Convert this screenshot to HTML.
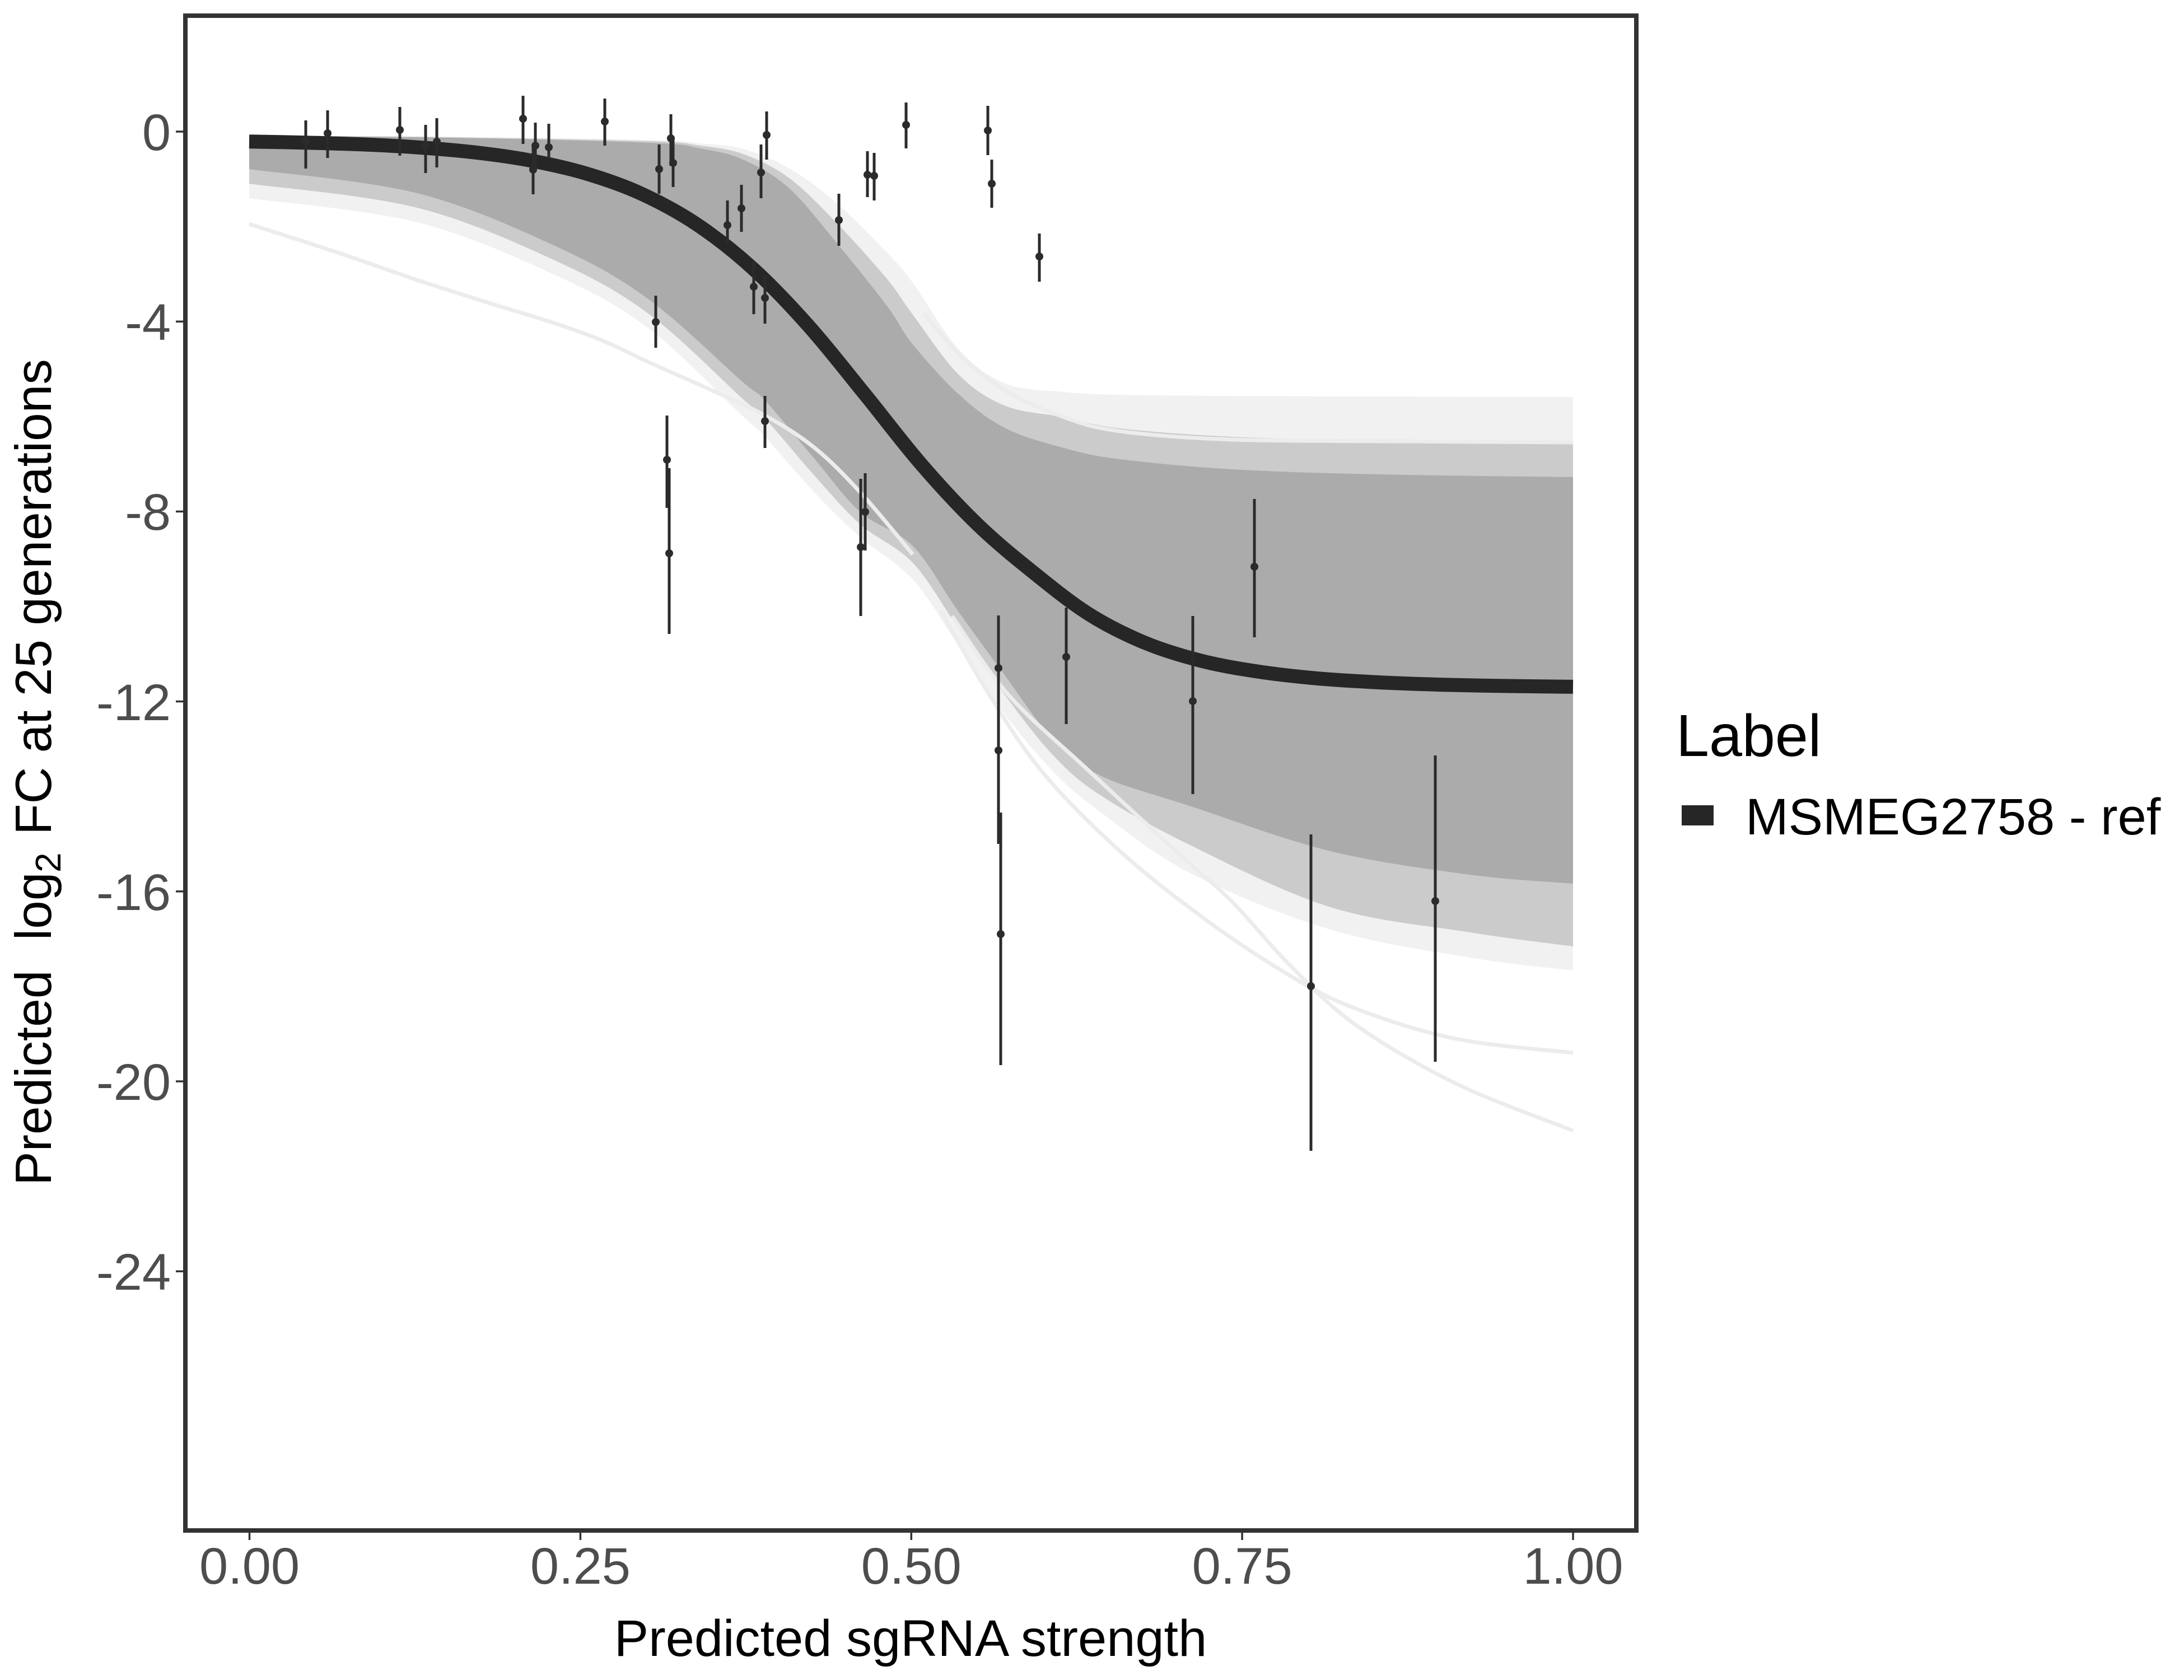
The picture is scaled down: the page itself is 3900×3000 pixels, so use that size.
<!DOCTYPE html>
<html><head><meta charset="utf-8"><style>
html,body{margin:0;padding:0;background:#fff;}
svg{display:block;}
text{font-family:"Liberation Sans",Arial,sans-serif;}
</style></head><body>
<svg width="3900" height="3000" viewBox="0 0 3900 3000" xmlns="http://www.w3.org/2000/svg">
<rect width="3900" height="3000" fill="#fff"/>

<path id="bandF" fill="#f1f1f1" d="M445,242 L800,244 L1159,250 L1250,256 L1327,266 L1408,300 L1491,360 L1583,450 L1630,505 L1713,625 L1796,685 L1900,700 L2000,705 L2200,707 L2459,708 L2809,709 L2809,1733 L2625,1710 L2376,1660 L2127,1560 L1965,1450 L1880,1377 L1790,1270 L1710,1150 L1630,1035 L1537,960 L1455,880 L1366,780 L1325,742 L1159,587 L993,492 L745,397 L445,354 Z"/>
<path id="bandM" fill="#cbcbcb" d="M445,242 L800,245 L1159,252 L1250,260 L1327,275 L1408,317 L1491,395 L1583,497 L1630,562 L1713,670 L1796,725 L1900,745 L2000,765 L2200,780 L2459,787 L2809,792 L2809,1690 L2625,1665 L2376,1620 L2127,1510 L1965,1420 L1880,1348 L1790,1235 L1710,1120 L1630,1005 L1537,937 L1455,850 L1366,747 L1325,711 L1159,561 L993,466 L745,371 L445,328 Z"/>
<path id="bandD" fill="#ababab" d="M445,243 L800,246 L1159,255 L1250,265 L1327,285 L1408,335 L1491,430 L1583,545 L1630,615 L1713,705 L1796,765 L1900,800 L2000,820 L2200,838 L2459,847 L2809,852 L2809,1578 L2625,1562 L2376,1520 L2127,1440 L1965,1385 L1880,1320 L1790,1200 L1710,1090 L1630,975 L1537,915 L1455,820 L1366,715 L1325,681 L1159,535 L993,440 L745,345 L445,302 Z"/>

<g fill="none" stroke="#ececec" stroke-width="7" stroke-linejoin="round">
<path class="sm" d="M445,400 L600,450 L745,500 L870,540 L993,578 L1080,610 L1159,647 L1260,692 L1366,742 L1455,800 L1537,880 L1630,990"/>
<path class="sm" d="M1700,1100 L1800,1240 L1945,1377 L2100,1520 L2200,1610 L2300,1720 L2418,1828 L2600,1935 L2809,2019"/>
<path class="sm" d="M1680,1090 L1760,1230 L1860,1377 L2000,1520 L2150,1640 L2300,1740 L2418,1800 L2600,1855 L2809,1880"/>
<path class="sm" d="M1650,560 L1720,640 L1800,700 L1900,745 L2000,770 L2200,785 L2500,788 L2809,790"/>
</g>

<path class="sm" fill="none" stroke="#262626" stroke-width="25" stroke-linejoin="round" d="M445,252.8 L545,254.7 L645,257.8 L745,263.1 L845,271.8 L945,286.2 L1045,309.4 L1145,345.8 L1245,401.1 L1345,480 L1445,583.2 L1545,704.8 L1645,829 L1745,936 L1845,1022 L1945,1097 L2045,1148 L2145,1180 L2245,1199 L2345,1210.8 L2445,1217.6 L2545,1221.8 L2645,1224.3 L2809,1226.4"/>

<g stroke="#2b2b2b" stroke-width="5" fill="none">
<line x1="546" y1="215" x2="546" y2="301"/>
<line x1="585" y1="197" x2="585" y2="282"/>
<line x1="714" y1="191" x2="714" y2="278"/>
<line x1="760" y1="223" x2="760" y2="309"/>
<line x1="780" y1="211" x2="780" y2="299"/>
<line x1="934" y1="171" x2="934" y2="257"/>
<line x1="956" y1="219" x2="956" y2="300"/>
<line x1="952" y1="260" x2="952" y2="347"/>
<line x1="980" y1="221" x2="980" y2="283"/>
<line x1="1080" y1="176" x2="1080" y2="260"/>
<line x1="1177" y1="258" x2="1177" y2="346"/>
<line x1="1198" y1="204" x2="1198" y2="296"/>
<line x1="1202" y1="249" x2="1202" y2="334"/>
<line x1="1171" y1="528" x2="1171" y2="621"/>
<line x1="1191" y1="742" x2="1191" y2="907"/>
<line x1="1195" y1="836" x2="1195" y2="1132"/>
<line x1="1299" y1="358" x2="1299" y2="434"/>
<line x1="1324" y1="330" x2="1324" y2="414"/>
<line x1="1359" y1="258" x2="1359" y2="354"/>
<line x1="1369" y1="199" x2="1369" y2="285"/>
<line x1="1346" y1="466" x2="1346" y2="561"/>
<line x1="1366" y1="492" x2="1366" y2="578"/>
<line x1="1366" y1="707" x2="1366" y2="800"/>
<line x1="1498" y1="346" x2="1498" y2="439"/>
<line x1="1549" y1="270" x2="1549" y2="352"/>
<line x1="1561" y1="273" x2="1561" y2="358"/>
<line x1="1618" y1="183" x2="1618" y2="265"/>
<line x1="1537" y1="855" x2="1537" y2="1100"/>
<line x1="1545" y1="845" x2="1545" y2="983"/>
<line x1="1764" y1="189" x2="1764" y2="277"/>
<line x1="1771" y1="285" x2="1771" y2="371"/>
<line x1="1856" y1="417" x2="1856" y2="503"/>
<line x1="1783" y1="1099" x2="1783" y2="1507"/>
<line x1="1787" y1="1451" x2="1787" y2="1902"/>
<line x1="1904" y1="1085" x2="1904" y2="1293"/>
<line x1="2130" y1="1100" x2="2130" y2="1418"/>
<line x1="2240" y1="891" x2="2240" y2="1138"/>
<line x1="2563" y1="1349" x2="2563" y2="1896"/>
<line x1="2341" y1="1490" x2="2341" y2="2055"/>
</g>
<g fill="#2b2b2b">
<circle cx="546" cy="253" r="7"/>
<circle cx="585" cy="238" r="7"/>
<circle cx="714" cy="232" r="7"/>
<circle cx="760" cy="260" r="7"/>
<circle cx="780" cy="253" r="7"/>
<circle cx="934" cy="212" r="7"/>
<circle cx="956" cy="260" r="7"/>
<circle cx="952" cy="303" r="7"/>
<circle cx="980" cy="263" r="7"/>
<circle cx="1080" cy="217" r="7"/>
<circle cx="1177" cy="302" r="7"/>
<circle cx="1198" cy="247" r="7"/>
<circle cx="1202" cy="291" r="7"/>
<circle cx="1171" cy="575" r="7"/>
<circle cx="1191" cy="821" r="7"/>
<circle cx="1195" cy="988" r="7"/>
<circle cx="1299" cy="402" r="7"/>
<circle cx="1324" cy="372" r="7"/>
<circle cx="1359" cy="308" r="7"/>
<circle cx="1369" cy="241" r="7"/>
<circle cx="1346" cy="512" r="7"/>
<circle cx="1366" cy="532" r="7"/>
<circle cx="1366" cy="752" r="7"/>
<circle cx="1498" cy="393" r="7"/>
<circle cx="1549" cy="312" r="7"/>
<circle cx="1561" cy="314" r="7"/>
<circle cx="1618" cy="223" r="7"/>
<circle cx="1537" cy="977" r="7"/>
<circle cx="1545" cy="914" r="7"/>
<circle cx="1764" cy="233" r="7"/>
<circle cx="1771" cy="328" r="7"/>
<circle cx="1856" cy="458" r="7"/>
<circle cx="1783" cy="1193" r="7"/>
<circle cx="1783" cy="1340" r="7"/>
<circle cx="1787" cy="1668" r="7"/>
<circle cx="1904" cy="1173" r="7"/>
<circle cx="2130" cy="1252" r="7"/>
<circle cx="2240" cy="1012" r="7"/>
<circle cx="2563" cy="1609" r="7"/>
<circle cx="2341" cy="1761" r="7"/>
</g>

<rect x="331" y="28" width="2591" height="2705" fill="none" stroke="#333333" stroke-width="8"/>

<g stroke="#333333" stroke-width="3.5">
<line x1="445.5" y1="2737" x2="445.5" y2="2750"/>
<line x1="1036.4" y1="2737" x2="1036.4" y2="2750"/>
<line x1="1627.3" y1="2737" x2="1627.3" y2="2750"/>
<line x1="2218.1" y1="2737" x2="2218.1" y2="2750"/>
<line x1="2809" y1="2737" x2="2809" y2="2750"/>
<line x1="314" y1="235" x2="327" y2="235"/>
<line x1="314" y1="574.2" x2="327" y2="574.2"/>
<line x1="314" y1="913.4" x2="327" y2="913.4"/>
<line x1="314" y1="1252.6" x2="327" y2="1252.6"/>
<line x1="314" y1="1591.8" x2="327" y2="1591.8"/>
<line x1="314" y1="1931" x2="327" y2="1931"/>
<line x1="314" y1="2270.2" x2="327" y2="2270.2"/>
</g>

<g fill="#4d4d4d" font-size="92">
<text x="445.5" y="2828" text-anchor="middle">0.00</text>
<text x="1036.4" y="2828" text-anchor="middle">0.25</text>
<text x="1627.3" y="2828" text-anchor="middle">0.50</text>
<text x="2218.1" y="2828" text-anchor="middle">0.75</text>
<text x="2809" y="2828" text-anchor="middle">1.00</text>
<text x="305" y="268" text-anchor="end">0</text>
<text x="305" y="607" text-anchor="end">-4</text>
<text x="305" y="946" text-anchor="end">-8</text>
<text x="305" y="1286" text-anchor="end">-12</text>
<text x="305" y="1625" text-anchor="end">-16</text>
<text x="305" y="1964" text-anchor="end">-20</text>
<text x="305" y="2303" text-anchor="end">-24</text>
</g>

<text x="1626" y="2957" text-anchor="middle" font-size="92" fill="#000">Predicted sgRNA strength</text>
<g transform="rotate(-90)" fill="#000">
<text x="-2117" y="91" font-size="91">Predicted</text>
<text x="-1679" y="91" font-size="91">log</text>
<text x="-1558" y="108" font-size="64">2</text>
<text x="-1491" y="91" font-size="91">FC at 25 generations</text>
</g>

<text x="2993" y="1350" font-size="106" fill="#000">Label</text>
<rect x="3003" y="1438" width="57" height="36" fill="#262626"/>
<text x="3117" y="1490" font-size="92" fill="#000">MSMEG2758 - ref</text>
</svg>
<script>
(function(){
function parse(d){var n=d.match(/-?\d+(\.\d+)?/g).map(Number);var p=[];for(var i=0;i+1<n.length;i+=2){p.push([n[i],n[i+1]]);}return p;}
function cr(p,move){var s=move?("M"+p[0][0]+","+p[0][1]):("L"+p[0][0]+","+p[0][1]);
for(var i=0;i<p.length-1;i++){var a=p[i>0?i-1:i],b=p[i],c=p[i+1],e=p[i+2<p.length?i+2:i+1];
var c1x=b[0]+(c[0]-a[0])/6,c1y=b[1]+(c[1]-a[1])/6,c2x=c[0]-(e[0]-b[0])/6,c2y=c[1]-(e[1]-b[1])/6;
s+=" C"+c1x.toFixed(1)+","+c1y.toFixed(1)+" "+c2x.toFixed(1)+","+c2y.toFixed(1)+" "+c[0]+","+c[1];}
return s;}
var sm=document.querySelectorAll("path.sm");
for(var i=0;i<sm.length;i++){var p=parse(sm[i].getAttribute("d"));sm[i].setAttribute("d",cr(p,true));}
["bandF","bandM","bandD"].forEach(function(id){var el=document.getElementById(id);if(!el)return;var p=parse(el.getAttribute("d"));var up=p.slice(0,16),lo=p.slice(16);
el.setAttribute("d",cr(up,true)+" "+cr(lo,false)+" Z");});
})();
</script>
</body></html>
